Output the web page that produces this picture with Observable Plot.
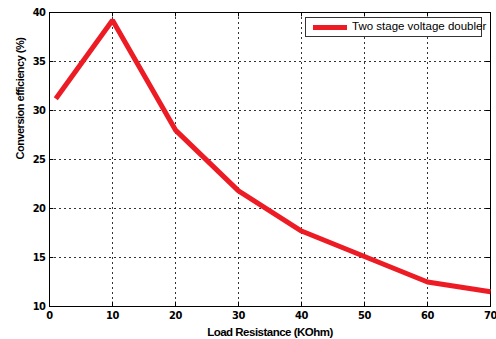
<!DOCTYPE html>
<html><head><meta charset="utf-8">
<script src="https://cdn.jsdelivr.net/npm/d3@7"></script>
<script src="https://cdn.jsdelivr.net/npm/@observablehq/plot@0.6"></script>
<style>
html,body{margin:0;padding:0;background:#fff;}
#wrap{position:relative;width:496px;height:339px;}
#legend{position:absolute;left:305px;top:17px;width:177px;height:20px;border:1px solid #333;background:#fff;font-family:"Liberation Sans",Arial,sans-serif;font-size:11.5px;box-sizing:border-box;}
#legend .sw{position:absolute;left:7px;top:7px;width:34px;height:5px;background:#ed1c24;}
#legend .tx{position:absolute;left:46px;top:2px;white-space:nowrap;color:#000;}
</style></head>
<body><div id="wrap"><div id="legend"><div class="sw"></div><div class="tx">Two stage voltage doubler</div></div></div>
<script>
const resistance = [1, 10, 20, 30, 40, 50, 60, 70];
const efficiency = [31.2, 39.2, 28.0, 21.8, 17.7, 15.1, 12.5, 11.5];
const xTicks = [0, 10, 20, 30, 40, 50, 60, 70];
const yTicks = [10, 15, 20, 25, 30, 35, 40];
const seriesName = "Two stage voltage doubler";

const data = resistance.map((x, i) => ({x, y: efficiency[i]}));
const font = "'DejaVu Sans Condensed','Liberation Sans Narrow','Arial Narrow',sans-serif";

const chart = Plot.plot({
  width: 496, height: 339,
  marginLeft: 49, marginRight: 6, marginTop: 12, marginBottom: 33,
  style: {fontFamily: font, fontSize: "11px", fontWeight: "bold", color: "#000", background: "#fff", letterSpacing: "-0.5px"},
  x: {domain: [0, 70], ticks: xTicks, label: null},
  y: {domain: [10, 40], ticks: yTicks, label: null},
  marks: [
    Plot.gridX(xTicks, {stroke: "#000", strokeOpacity: 0.8, strokeDasharray: "2,3"}),
    Plot.gridY(yTicks, {stroke: "#000", strokeOpacity: 0.8, strokeDasharray: "2,3"}),
    Plot.ruleX(xTicks, {y1: 40, y2: 39.55, stroke: "#000"}),
    Plot.ruleX(xTicks, {y1: 10, y2: 10.45, stroke: "#000"}),
    Plot.ruleY(yTicks, {x1: 0, x2: 0.7, stroke: "#000"}),
    Plot.ruleY(yTicks, {x1: 70, x2: 69.3, stroke: "#000"}),
    Plot.frame({stroke: "#000", strokeWidth: 1}),
    Plot.axisX(xTicks, {tickSize: 0, tickPadding: 5, fontSize: 11, fontWeight: "bold", label: null}),
    Plot.axisY(yTicks, {tickSize: 0, tickPadding: 4, fontSize: 11, fontWeight: "bold", label: null}),
    Plot.line(data, {x: "x", y: "y", stroke: "#ed1c24", strokeWidth: 5, strokeLinejoin: "miter", strokeLinecap: "butt"}),
    Plot.text(["Load Resistance (KOhm)"], {frameAnchor: "bottom", dy: 29, fontSize: 11.5, fontWeight: "bold", fontFamily: "'Liberation Sans',Arial,sans-serif", letterSpacing: "0px"}),
    Plot.text(["Conversion efficiency (%)"], {frameAnchor: "left", dx: -29, rotate: -90, fontSize: 11, fontWeight: "bold", fontFamily: "'Liberation Sans',Arial,sans-serif"})
  ]
});
document.getElementById("wrap").prepend(chart);
</script></body></html>
